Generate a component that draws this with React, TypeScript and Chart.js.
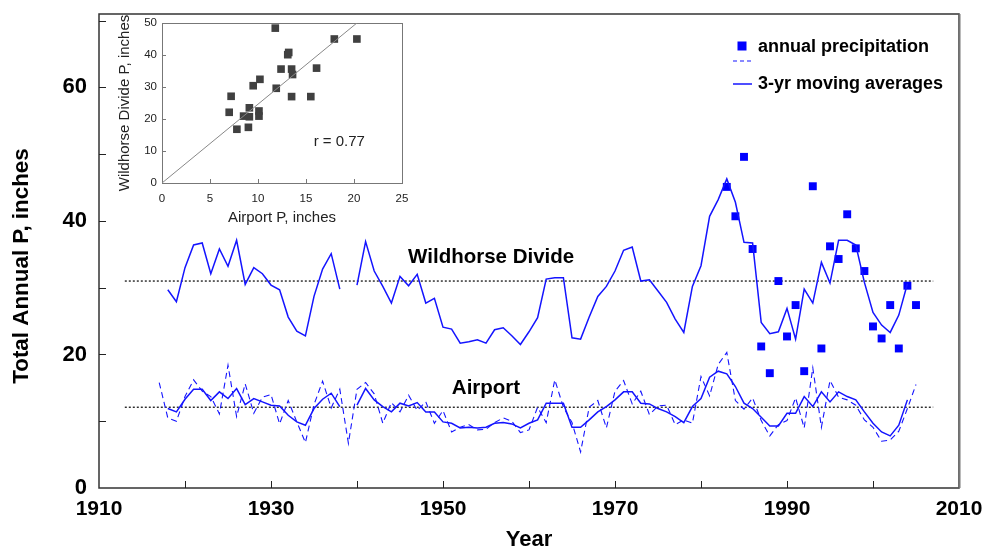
import React, { useEffect, useRef } from 'react';
import { Chart, registerables } from 'chart.js';
Chart.register(...registerables);

// ---------------- DATA ----------------
const MA_START_YEAR = 1918; // 3-yr moving averages, 1918..2004
const ANNUAL_AIRPORT_START = 1917; // airport annual, 1917..2005
const ANNUAL_WILD_START = 1983; // Wildhorse annual, 1983..2005

const wildhorseMA: (number | null)[] = [
  29.7, 27.9,
  33.0, 36.4, 36.7, 32.1, 35.8, 33.2, 37.1, 30.5, 33.0, 32.1, // 1920s
  30.4, 29.7, 25.6, 23.5, 22.8, 28.7, 32.8, 35.1, 29.8, null, // 1930s
  30.4, 36.9, 32.5, 30.2, 27.7, 31.7, 30.3, 32.0, 27.7, 28.4, // 1940s
  24.1, 23.8, 21.7, 21.9, 22.2, 21.7, 23.7, 24.0, 22.8, 21.5, // 1950s
  23.4, 25.5, 31.3, 31.5, 31.5, 22.5, 22.3, 25.6, 28.7, 30.2, // 1960s
  32.5, 35.6, 36.1, 31.0, 31.2, 29.5, 27.8, 25.3, 23.3, 30.2, // 1970s
  33.3, 40.7, 43.2, 46.3, 42.8, 36.8, 36.7, 24.8, 23.1, 23.4, // 1980s
  26.9, 22.3, 29.8, 27.7, 33.8, 30.7, 37.1, 37.1, 36.4, 30.8, // 1990s
  26.3, 24.4, 23.3, 25.9, 30.6, // 2000s
];

const airportMA: (number | null)[] = [
  11.9, 11.4,
  13.3, 14.8, 14.8, 13.1, 14.4, 13.4, 14.9, 12.5, 13.4, 12.9,
  12.4, 12.3, 10.9, 9.9, 9.4, 11.9, 13.3, 14.2, 12.2, null,
  12.4, 14.9, 13.2, 12.2, 11.4, 12.7, 12.3, 12.8, 11.4, 11.4,
  9.9, 9.7, 9.0, 9.1, 9.0, 9.1, 9.7, 9.8, 9.6, 9.0,
  9.7, 10.2, 12.7, 12.7, 12.7, 9.1, 9.1, 10.2, 11.4, 12.2,
  13.2, 14.4, 14.4, 12.7, 12.6, 11.9, 11.4, 10.7, 9.8, 12.2,
  13.4, 16.6, 17.5, 17.1, 15.2, 12.7, 11.9, 10.6, 9.3, 9.3,
  11.2, 11.2, 13.7, 12.2, 14.4, 12.9, 14.4, 13.7, 13.2, 11.4,
  9.7, 8.4, 7.8, 9.4, 13.2,
];

const airportAnnual: number[] = [
  15.8, 10.5, 10.0,
  13.7, 16.2, 14.5, 13.7, 11.1, 18.4, 10.7, 15.6, 11.2, 13.6,
  14.0, 9.6, 13.1, 9.9, 6.8, 12.5, 16.0, 12.0, 14.8, 6.7,
  14.8, 15.8, 14.1, 9.7, 12.8, 11.4, 13.9, 11.6, 12.9, 9.7,
  11.6, 8.4, 9.1, 9.5, 8.7, 8.8, 9.8, 10.5, 10.0, 8.3,
  8.7, 12.1, 9.8, 16.2, 12.1, 9.8, 5.4, 12.1, 13.1, 9.0,
  14.5, 16.1, 12.6, 14.5, 11.0, 12.3, 12.4, 9.5, 10.2, 9.7,
  16.7, 13.8, 18.5, 20.3, 13.1, 11.8, 13.5, 10.1, 7.8, 9.5,
  10.1, 13.5, 9.0, 18.0, 9.1, 16.1, 13.6, 13.2, 12.4, 10.2,
  9.1, 7.0, 7.2, 8.5, 11.9, 15.5,
];

const wildhorseAnnual: number[] = [
  45.1, 40.7, 49.6, 35.8, 21.2, 17.2, 31.0, 22.7, 27.4, 17.5,
  45.2, 20.9, 36.2, 34.3, 41.0, 35.9, 32.5, 24.2, 22.4, 27.4,
  20.9, 30.3, 27.4,
];

const meanWildhorse = 31.0;
const meanAirport = 12.1;
const meanLineYears = [1913, 2007];

// inset scatter (Airport P vs Wildhorse Divide P)
const insetAirportP = [11.8, 17.95, 20.3, 13.2, 13.1, 12.4, 13.5, 13.6, 16.1, 10.2, 9.5, 11.9, 7.2, 13.5, 15.5, 7.0, 9.1, 10.1, 8.5, 9.1, 10.1, 7.8, 9.0];
const insetWildP = [48.4, 45.0, 45.0, 40.8, 40.1, 35.6, 35.6, 33.9, 35.9, 32.4, 30.4, 29.6, 27.1, 27.0, 27.0, 22.1, 23.5, 22.5, 20.9, 20.7, 20.9, 16.8, 17.4];
const insetFitLine = [{ x: 0, y: 0 }, { x: 20.3, y: 50 }];
const correlationText = 'r = 0.77';

const FONT = "'Liberation Sans', Arial, Helvetica, sans-serif";
const BLUE_LINE = '#1414ff';
const BLUE_MARK = '#0000ff';

const toPts = (arr: (number | null)[], start: number) => arr.map((v, i) => ({ x: start + i, y: v }));

const mainPlugin = {
  id: 'mainDecor',
  beforeDatasetsDraw(chart: any) {
    const { ctx, chartArea: a, scales } = chart;
    ctx.save();
    ctx.strokeStyle = '#333';
    ctx.lineWidth = 1.5;
    ctx.strokeRect(a.left, a.top, a.right - a.left, a.bottom - a.top);
    ctx.strokeStyle = '#777';
    ctx.lineWidth = 2;
    ctx.beginPath(); ctx.moveTo(a.right + 0.5, a.top); ctx.lineTo(a.right + 0.5, a.bottom); ctx.stroke();
    ctx.lineWidth = 1;
    ctx.strokeStyle = '#222';
    for (let v = 10; v <= 70; v += 10) {
      const y = Math.round(scales.y.getPixelForValue(v)) + 0.5;
      ctx.beginPath(); ctx.moveTo(a.left, y); ctx.lineTo(a.left + 7, y); ctx.stroke();
    }
    for (let v = 1920; v <= 2000; v += 10) {
      const x = Math.round(scales.x.getPixelForValue(v)) + 0.5;
      ctx.beginPath(); ctx.moveTo(x, a.bottom); ctx.lineTo(x, a.bottom - 7); ctx.stroke();
    }
    ctx.restore();
  },
  afterDraw(chart: any) {
    const { ctx, scales } = chart;
    ctx.save();
    ctx.fillStyle = '#000';
    ctx.textAlign = 'center';
    ctx.textBaseline = 'middle';
    // y-axis title
    ctx.save();
    ctx.translate(22, 266);
    ctx.rotate(-Math.PI / 2);
    ctx.font = `bold 22.4px ${FONT}`;
    ctx.fillText('Total Annual P, inches', 0, 0);
    ctx.restore();
    ctx.font = `bold 20.5px ${FONT}`;
    ctx.fillText('Wildhorse Divide', scales.x.getPixelForValue(1955.6), scales.y.getPixelForValue(34.5));
    ctx.fillText('Airport', scales.x.getPixelForValue(1955.0), scales.y.getPixelForValue(15.0));
    // legend
    ctx.fillStyle = BLUE_MARK;
    ctx.fillRect(737.5, 41.5, 9, 9);
    ctx.strokeStyle = BLUE_LINE;
    ctx.lineWidth = 1.2;
    ctx.setLineDash([4, 3]);
    ctx.beginPath(); ctx.moveTo(733, 61); ctx.lineTo(752, 61); ctx.stroke();
    ctx.setLineDash([]);
    ctx.lineWidth = 1.5;
    ctx.beginPath(); ctx.moveTo(733, 84); ctx.lineTo(752, 84); ctx.stroke();
    ctx.fillStyle = '#000';
    ctx.textAlign = 'left';
    ctx.font = `bold 18px ${FONT}`;
    ctx.fillText('annual precipitation', 758, 47);
    ctx.fillText('3-yr moving averages', 758, 84);
    ctx.restore();
  },
};

const insetPlugin = {
  id: 'insetDecor',
  beforeDatasetsDraw(chart: any) {
    const { ctx, chartArea: a, scales } = chart;
    ctx.save();
    ctx.strokeStyle = '#777';
    ctx.lineWidth = 1;
    ctx.strokeRect(a.left + 0.5, a.top + 0.5, a.right - a.left, a.bottom - a.top);
    for (let v = 10; v <= 40; v += 10) {
      const y = Math.round(scales.y.getPixelForValue(v)) + 0.5;
      ctx.beginPath(); ctx.moveTo(a.left, y); ctx.lineTo(a.left + 4, y); ctx.stroke();
    }
    for (let v = 5; v <= 20; v += 5) {
      const x = Math.round(scales.x.getPixelForValue(v)) + 0.5;
      ctx.beginPath(); ctx.moveTo(x, a.bottom); ctx.lineTo(x, a.bottom - 4); ctx.stroke();
    }
    ctx.restore();
  },
  afterDraw(chart: any) {
    const { ctx, scales } = chart;
    ctx.save();
    ctx.fillStyle = '#222';
    ctx.font = `15px ${FONT}`;
    ctx.textAlign = 'left';
    ctx.textBaseline = 'middle';
    ctx.fillText(correlationText, scales.x.getPixelForValue(15.8), scales.y.getPixelForValue(12.8));
    ctx.restore();
  },
};

export default function App() {
  const mainRef = useRef<HTMLCanvasElement>(null);
  const insetRef = useRef<HTMLCanvasElement>(null);

  useEffect(() => {
    document.body.style.margin = '0';
    const main = new Chart(mainRef.current as HTMLCanvasElement, {
      type: 'line',
      data: {
        datasets: [
          { label: 'Wildhorse 3-yr', data: toPts(wildhorseMA, MA_START_YEAR), borderColor: BLUE_LINE, borderWidth: 1.5, pointRadius: 0, spanGaps: false, tension: 0 },
          { label: 'Airport 3-yr', data: toPts(airportMA, MA_START_YEAR), borderColor: BLUE_LINE, borderWidth: 1.5, pointRadius: 0, spanGaps: false, tension: 0 },
          { label: 'Airport annual', data: toPts(airportAnnual, ANNUAL_AIRPORT_START), borderColor: BLUE_LINE, borderWidth: 1.1, borderDash: [6, 4], pointRadius: 0, tension: 0 },
          { label: 'Wildhorse annual', data: toPts(wildhorseAnnual, ANNUAL_WILD_START), showLine: false, pointStyle: 'rect', pointRadius: 5.6, backgroundColor: BLUE_MARK, borderColor: BLUE_MARK, borderWidth: 0 },
          { label: 'Wildhorse mean', data: meanLineYears.map((x) => ({ x, y: meanWildhorse })), borderColor: '#000', borderWidth: 1.2, borderDash: [2, 2], pointRadius: 0 },
          { label: 'Airport mean', data: meanLineYears.map((x) => ({ x, y: meanAirport })), borderColor: '#000', borderWidth: 1.2, borderDash: [2, 2], pointRadius: 0 },
        ] as any,
      },
      options: {
        animation: false,
        responsive: false,
        devicePixelRatio: 1,
        layout: { padding: { top: 14, right: 23, left: 0, bottom: 0 } },
        plugins: { legend: { display: false }, tooltip: { enabled: false } },
        scales: {
          x: {
            type: 'linear', min: 1910, max: 2010,
            grid: { display: false, drawTicks: false }, border: { display: false },
            ticks: {
              stepSize: 10, autoSkip: false, maxRotation: 0, padding: 9, color: '#000',
              font: { family: FONT, size: 21, weight: 'bold' },
              callback: (v: any) => ((Number(v) - 1910) % 20 === 0 ? String(v) : ''),
            },
            title: { display: true, text: 'Year', color: '#000', font: { family: FONT, size: 22, weight: 'bold' }, padding: { top: 0, bottom: 1 } },
            afterFit: (s: any) => { s.height = 66; s.paddingLeft = 0; s.paddingRight = 0; },
          },
          y: {
            type: 'linear', min: 0, max: 71,
            grid: { display: false, drawTicks: false }, border: { display: false },
            ticks: {
              stepSize: 10, padding: 12, color: '#000',
              font: { family: FONT, size: 22, weight: 'bold' },
              callback: (v: any) => (Number(v) % 20 === 0 ? String(v) : ''),
            },
            title: { display: false },
            afterFit: (s: any) => { s.width = 99; s.paddingTop = 0; s.paddingBottom = 0; },
          },
        },
      } as any,
      plugins: [mainPlugin],
    });

    const inset = new Chart(insetRef.current as HTMLCanvasElement, {
      type: 'scatter',
      data: {
        datasets: [
          { label: 'fit', type: 'line', data: insetFitLine, borderColor: '#888', borderWidth: 1, pointRadius: 0 },
          { label: 'pairs', data: insetAirportP.map((x, i) => ({ x, y: insetWildP[i] })), pointStyle: 'rect', pointRadius: 5.4, backgroundColor: '#404040', borderColor: '#404040', borderWidth: 0 },
        ] as any,
      },
      options: {
        animation: false,
        responsive: false,
        devicePixelRatio: 1,
        layout: { padding: { top: 23, right: 18, left: 0, bottom: 0 } },
        plugins: { legend: { display: false }, tooltip: { enabled: false } },
        scales: {
          x: {
            type: 'linear', min: 0, max: 25,
            grid: { display: false, drawTicks: false }, border: { display: false },
            ticks: { stepSize: 5, padding: 9, color: '#222', maxRotation: 0, font: { family: FONT, size: 11.5 } },
            title: { display: true, text: 'Airport P, inches', color: '#222', font: { family: FONT, size: 15 }, padding: { top: 0, bottom: 3 } },
            afterFit: (s: any) => { s.height = 47; s.paddingLeft = 0; s.paddingRight = 0; },
          },
          y: {
            type: 'linear', min: 0, max: 50,
            grid: { display: false, drawTicks: false }, border: { display: false },
            ticks: { stepSize: 10, padding: 5, color: '#222', font: { family: FONT, size: 11.5 } },
            title: { display: true, text: 'Wildhorse Divide P, inches', color: '#222', font: { family: FONT, size: 15 }, padding: { top: 16, bottom: 0 } },
            afterFit: (s: any) => { s.width = 62; s.paddingTop = 0; s.paddingBottom = 0; },
          },
        },
      } as any,
      plugins: [insetPlugin],
    });

    return () => { main.destroy(); inset.destroy(); };
  }, []);

  return (
    <div style={{ position: 'relative', width: 982, height: 554, background: '#fff' }}>
      <canvas ref={mainRef} width={982} height={554} style={{ position: 'absolute', left: 0, top: 0 }} />
      <canvas ref={insetRef} width={320} height={230} style={{ position: 'absolute', left: 100, top: 0 }} />
    </div>
  );
}
